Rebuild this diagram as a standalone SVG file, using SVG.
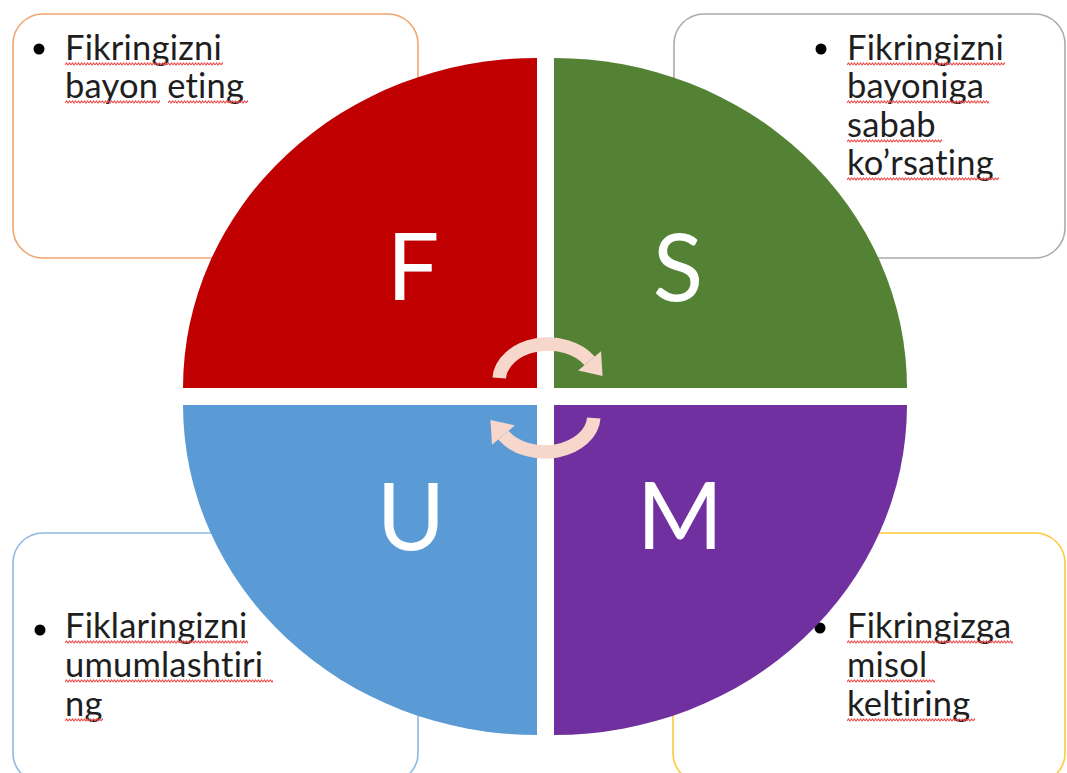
<svg xmlns="http://www.w3.org/2000/svg" width="1067" height="773" viewBox="0 0 1067 773">
<style>
.box{fill:#fff;stroke-width:1.6}
.txt{font-family:Lato,"Open Sans","Liberation Sans",sans-serif;font-size:34.5px;fill:#1e1e1e;letter-spacing:0.2px;font-variant-ligatures:none;font-feature-settings:"liga" 0,"clig" 0,"dlig" 0,"calt" 0}
.big{font-family:Lato,"Open Sans","Liberation Sans",sans-serif;font-size:93px;fill:#fff;text-anchor:middle}
.arc{fill:none;stroke:#F7D6CB;stroke-width:13.5}
.head{fill:#F7D6CB}
.sq{fill:url(#sq)}
</style>
<defs>
<pattern id="sq" width="6" height="4" patternUnits="userSpaceOnUse"><path d="M0 3 L1.5 1 L3 3 L4.5 1 L6 3" fill="none" stroke="#EE5050" stroke-width="1.1"/></pattern>
</defs>
<rect width="1067" height="773" fill="#fff"/>
<g id="box-f">
<rect class="box" x="13" y="14" width="405" height="244" rx="30" stroke="#F2A46E"/>
<circle cx="39" cy="49" r="5.5" fill="#000"/>
<text class="txt" x="65" y="60">Fikringizni</text>
<text class="txt" x="65" y="98">bayon eting</text>
<rect class="sq" transform="translate(65,62)" width="158" height="4"/>
<rect class="sq" transform="translate(65,100)" width="95" height="4"/>
<rect class="sq" transform="translate(168,100)" width="80" height="4"/>
</g>
<g id="box-s">
<rect class="box" x="674" y="14" width="391" height="244" rx="30" stroke="#ABABAB"/>
<circle cx="821" cy="49" r="5.5" fill="#000"/>
<text class="txt" x="847" y="60">Fikringizni</text>
<text class="txt" x="847" y="98">bayoniga</text>
<text class="txt" x="847" y="137">sabab</text>
<text class="txt" x="847" y="175">ko’rsating</text>
<rect class="sq" transform="translate(847,62)" width="158" height="4"/>
<rect class="sq" transform="translate(847,100)" width="142" height="4"/>
<rect class="sq" transform="translate(847,139)" width="95" height="4"/>
<rect class="sq" transform="translate(847,177)" width="152" height="4"/>
</g>
<g id="box-u">
<rect class="box" x="13" y="533" width="405" height="250" rx="30" stroke="#8FB8E2"/>
<circle cx="40" cy="630" r="5.5" fill="#000"/>
<text class="txt" x="65" y="638">Fiklaringizni</text>
<text class="txt" x="65" y="677">umumlashtiri</text>
<text class="txt" x="65" y="716">ng</text>
<rect class="sq" transform="translate(65,640)" width="183" height="4"/>
<rect class="sq" transform="translate(65,679)" width="208" height="4"/>
<rect class="sq" transform="translate(65,718)" width="38" height="4"/>
</g>
<g id="box-m">
<rect class="box" x="673" y="533" width="392" height="250" rx="30" stroke="#FFC93A"/>
<circle cx="820" cy="628" r="5.5" fill="#000"/>
<text class="txt" x="847" y="638">Fikringizga</text>
<text class="txt" x="847" y="677">misol</text>
<text class="txt" x="847" y="716">keltiring</text>
<rect class="sq" transform="translate(847,640)" width="166" height="4"/>
<rect class="sq" transform="translate(847,679)" width="88" height="4"/>
<rect class="sq" transform="translate(847,718)" width="128" height="4"/>
</g>
<g id="quad-f">
<path d="M537,388 L183,388 A354,330 0 0 1 537,58 Z" fill="#C00000"/>
<text class="big" x="413" y="300">F</text>
</g>
<g id="quad-s">
<path d="M554,388 L554,58 A353,330 0 0 1 907,388 Z" fill="#548235"/>
<text class="big" x="678" y="301">S</text>
</g>
<g id="quad-u">
<path d="M537,405 L537,735 A354,330 0 0 1 183,405 Z" fill="#5B9BD5"/>
<text class="big" x="411" y="550">U</text>
</g>
<g id="quad-m">
<path d="M554,405 L907,405 A353,330 0 0 1 554,735 Z" fill="#7030A0"/>
<text class="big" x="680" y="549">M</text>
</g>
<g id="connectors">
<g id="arrow-top">
<path class="arc" d="M499.2,378 A49,36 0 0 1 589.6,360.9"/>
<polygon class="head" points="601,351.2 602.6,376.1 578.2,370.6"/>
</g>
<g id="arrow-bottom" transform="rotate(180 546.5 398)">
<path class="arc" d="M499.2,378 A49,36 0 0 1 589.6,360.9"/>
<polygon class="head" points="601,351.2 602.6,376.1 578.2,370.6"/>
</g>
</g>
</svg>
